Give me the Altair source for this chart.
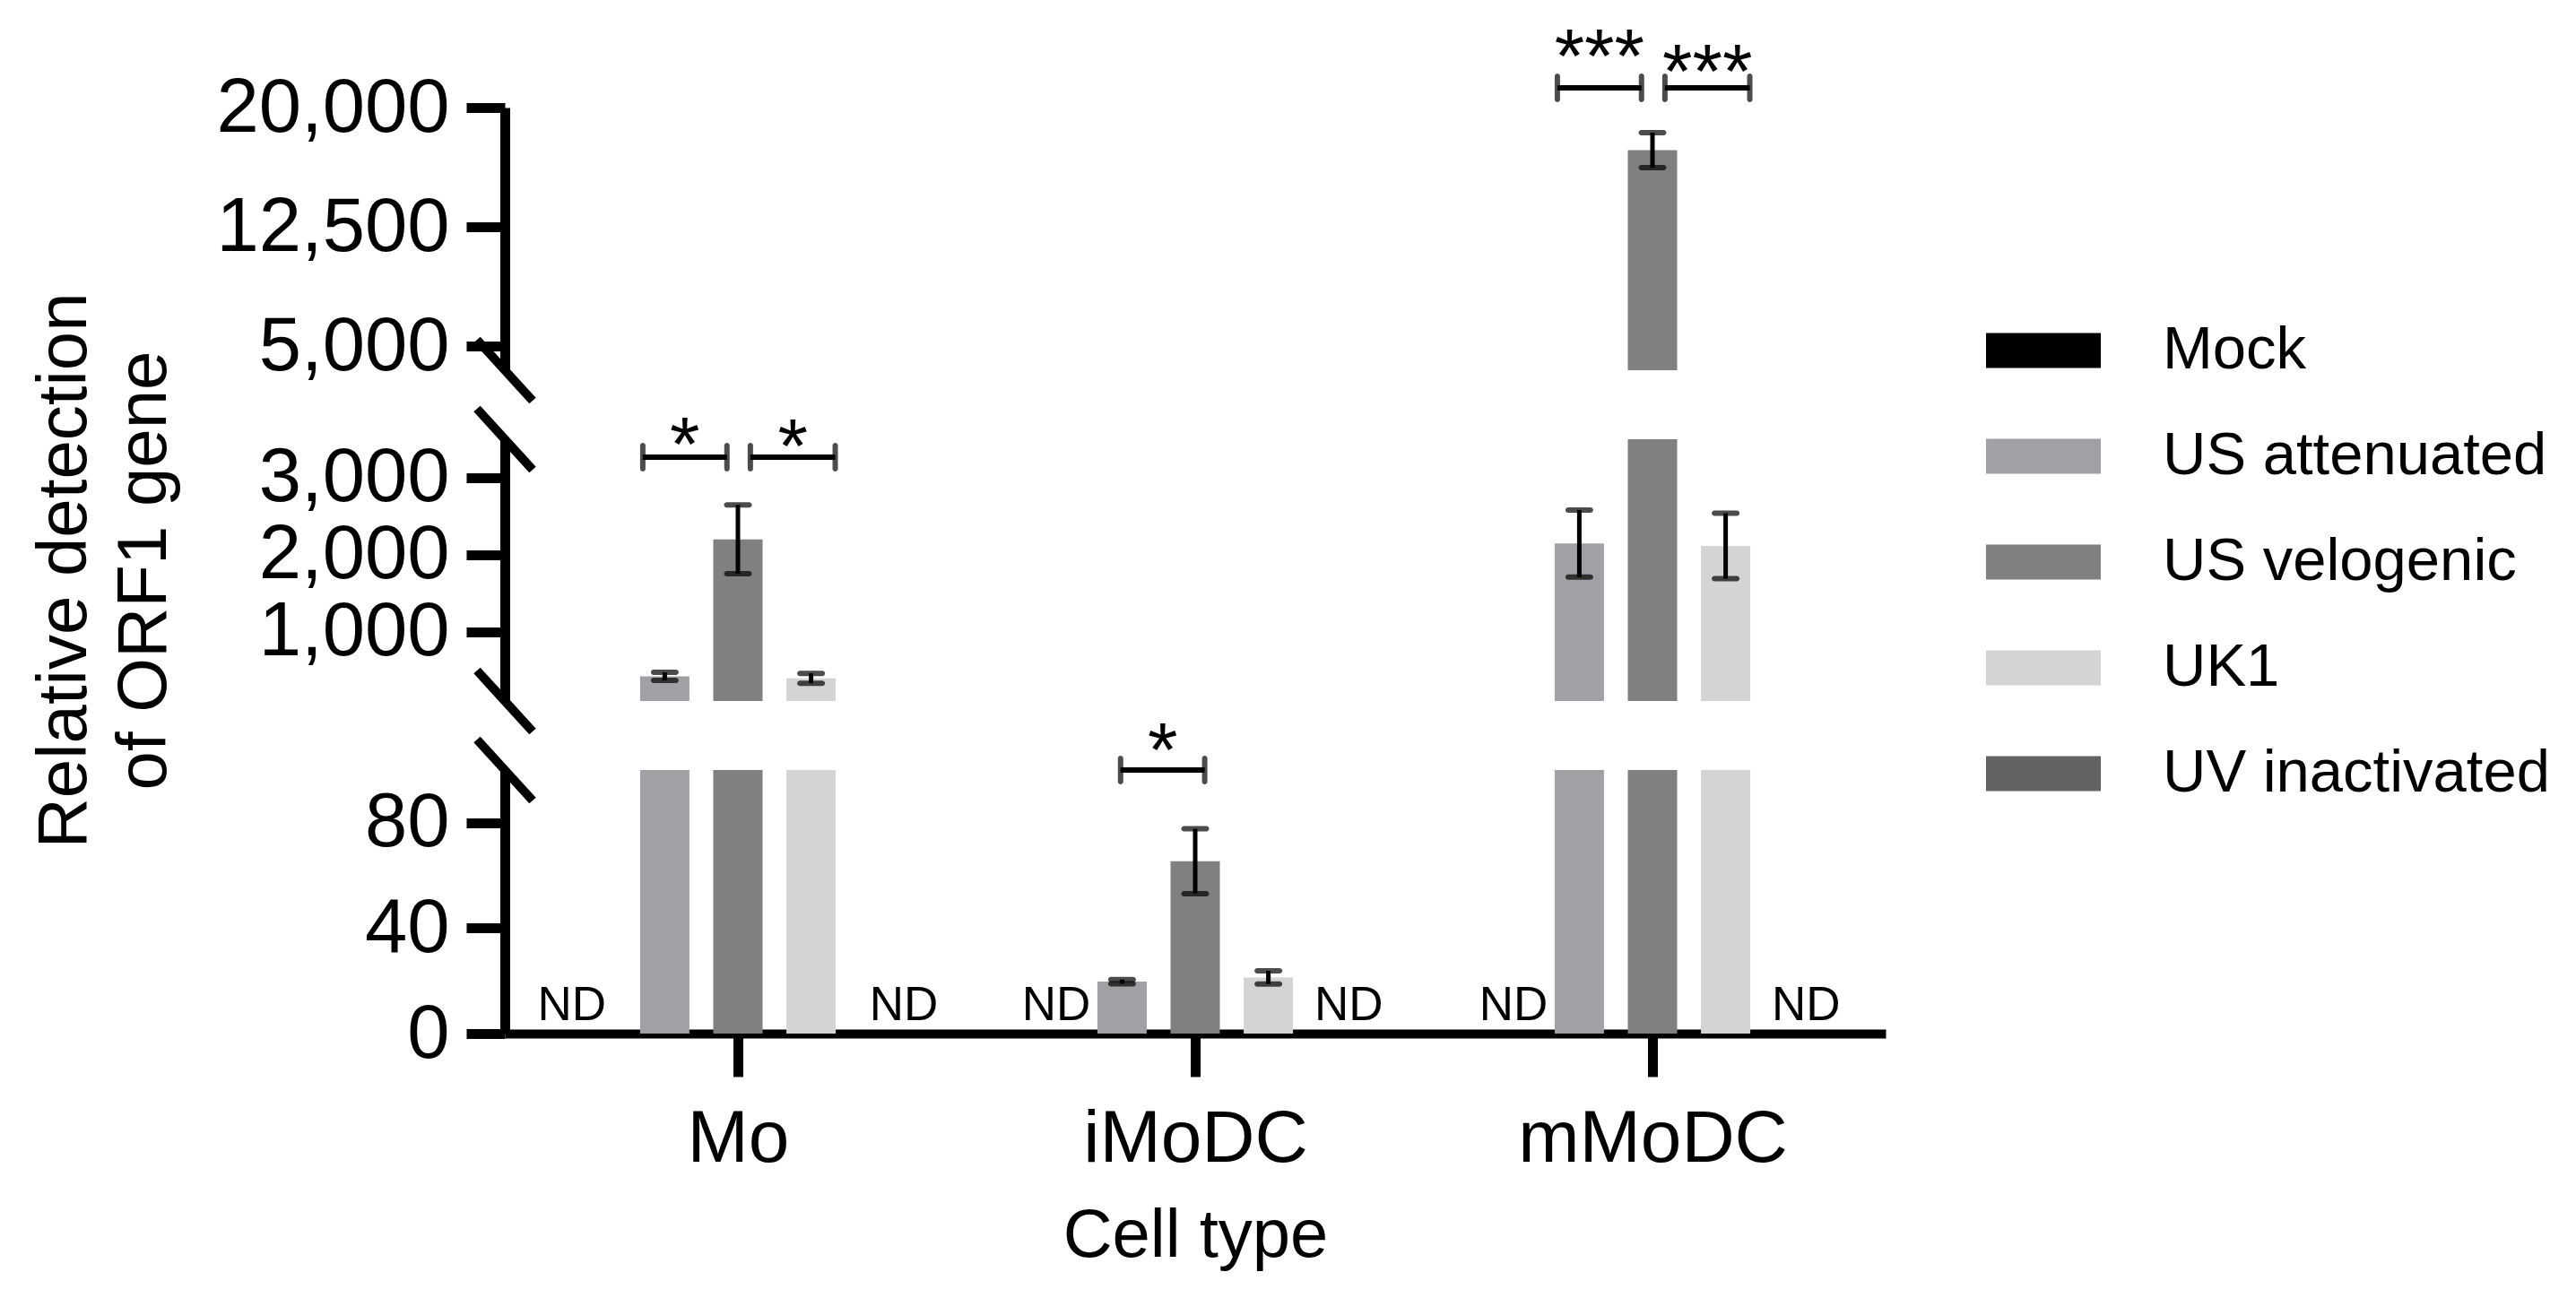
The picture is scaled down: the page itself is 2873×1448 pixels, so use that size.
import altair as alt
import pandas as pd

FONT = "Liberation Sans"

cells = ["Mo", "iMoDC", "mMoDC"]
series = ["Mock", "US attenuated", "US velogenic", "UK1", "UV inactivated"]
colors = ["#000000", "#a1a0a5", "#808080", "#d4d4d4", "#626262"]

# mean relative detection (None = not detected, "ND")
mean_Mo = [None, 420, 2200, 395, None]
mean_iMoDC = [None, 19.7, 65.4, 21.3, None]
mean_mMoDC = [None, 2145, 17320, 2113, None]
# error (SEM)
err_Mo = [None, 52, 448, 64, None]
err_iMoDC = [None, 0.8, 12.3, 2.5, None]
err_mMoDC = [None, 436, 1100, 425, None]

# significance comparisons
sig_cell = ["Mo", "Mo", "iMoDC", "mMoDC", "mMoDC"]
sig_from = ["US attenuated", "US velogenic", "US attenuated", "US attenuated", "US velogenic"]
sig_to = ["US velogenic", "UK1", "US velogenic", "US velogenic", "UK1"]
sig_label = ["*", "*", "*", "***", "***"]
sig_level = [3267, 3267, 100, 21240, 21240]
sig_text_level = [3093, 3064, 97.6, 21580, 20620]

# y-axis segments (broken axis): domain and tick values
seg_domains = [[3500, 20000], [100, 3500], [0, 100]]
seg_ticks = [[5000, 12500, 20000], [1000, 2000, 3000], [0, 40, 80]]

STEP = 0.16  # bar step within a group, in group units
W = 1540
H = [293, 292, 294]

rows = []
for ci, (c, means, errs) in enumerate(zip(cells, [mean_Mo, mean_iMoDC, mean_mMoDC],
                                           [err_Mo, err_iMoDC, err_mMoDC])):
    for si, s in enumerate(series):
        m = means[si]
        rows.append(dict(cell=c, series=s, xpos=ci + (si - 2) * STEP,
                         mean=m if m is not None else 0.0,
                         lo=(m - errs[si]) if m is not None else None,
                         hi=(m + errs[si]) if m is not None else None,
                         nd=m is None))
df = pd.DataFrame(rows)

sig_rows = []
for c, a, b, lab, lvl, tl in zip(sig_cell, sig_from, sig_to, sig_label, sig_level, sig_text_level):
    ci = cells.index(c)
    ia, ib = series.index(a), series.index(b)
    # bracket ends: left-hand pair sits slightly left, right-hand pair slightly right
    if ib <= 2:
        xa, xb = ia - 2 - 0.3, ib - 2 - 0.15
    else:
        xa, xb = ia - 2 + 0.17, ib - 2 + 0.33
    if c == "iMoDC":
        xa, xb = xa + 0.28, xb + 0.28
    sig_rows.append(dict(cell=c, label=lab, y=lvl, ty=tl,
                         x1=ci + xa * STEP, x2=ci + xb * STEP))
sig = pd.DataFrame(sig_rows)

xscale = alt.Scale(domain=[-0.5, 2.5], nice=False, zero=False)
cscale = alt.Scale(domain=series, range=colors)

sig_panels = [sig[sig["y"] > 5000], sig[(sig["y"] > 100) & (sig["y"] < 5000)], sig[sig["y"] <= 100]]


def panel(k):
    lo, hi = seg_domains[k]
    yscale = alt.Scale(domain=[lo, hi], nice=False, zero=False)
    is_bottom = k == 2
    if is_bottom:
        xaxis = alt.Axis(values=[0, 1, 2], labelExpr="['Mo','iMoDC','mMoDC'][datum.value]",
                         tickSize=48, tickWidth=11, domainWidth=10, labelFontSize=82,
                         labelPadding=29, title="Cell type", titleFontSize=76,
                         titleFontWeight="normal", titlePadding=30, grid=False,
                         domainColor="black", tickColor="black", labelColor="black",
                         titleColor="black", labelFont=FONT, titleFont=FONT,
                         labelLimit=600)
    else:
        xaxis = None
    yaxis_kw = dict(values=seg_ticks[k], format=",d", tickSize=43, tickWidth=11,
                    domainWidth=11, labelFontSize=85, labelPadding=19, grid=False,
                    domainColor="black", tickColor="black", labelColor="black",
                    labelFont=FONT, labelLimit=600)
    if k == 1:
        yaxis = alt.Axis(title=["Relative detection", "of ORF1 gene"], titleFontSize=78,
                         titleFontWeight="normal", titleFont=FONT, titleColor="black",
                         titleAngle=270, titleAlign="center", titleBaseline="alphabetic",
                         titleX=-468, titleY=146, titleLineHeight=89, **yaxis_kw)
    else:
        yaxis = alt.Axis(title=None, **yaxis_kw)

    def X(field):
        return alt.X(field, scale=xscale, axis=xaxis, title="Cell type" if is_bottom else None)

    def Y(field):
        return alt.Y(field, scale=yscale, axis=yaxis)

    bars_df = df[~df["nd"]]
    bars = alt.Chart(bars_df).mark_bar(size=55, clip=True).encode(
        x=X("xpos:Q"),
        y=Y("mean:Q"),
        color=alt.Color("series:N", scale=cscale, legend=alt.Legend(
            title=None, orient="none", legendX=1652, legendY=207,
            symbolType="M-1,-0.305H1V0.305H-1Z", symbolSize=16384,
            symbolStrokeWidth=0, symbolOpacity=1, labelFontSize=67, labelFont=FONT,
            labelColor="black", labelOffset=69, rowPadding=21, padding=0,
            labelLimit=800)),
    )
    layers = [bars]

    err_df = bars_df[(bars_df["mean"] >= lo) & (bars_df["mean"] <= hi)]
    if len(err_df):
        stem = alt.Chart(err_df).mark_rule(strokeWidth=5, color="black").encode(
            x=X("xpos:Q"), y=Y("lo:Q"), y2="hi:Q")
        caps = alt.Chart(err_df).transform_fold(["lo", "hi"], as_=["k", "v"]).mark_tick(
            orient="horizontal", size=31, thickness=6, color="black", cornerRadius=3).encode(
            x=X("xpos:Q"), y=Y("v:Q"))
        layers += [stem, caps]

    sub = sig_panels[k]
    if len(sub):
        hline = alt.Chart(sub).mark_rule(strokeWidth=6, color="black").encode(
            x=X("x1:Q"), x2="x2:Q", y=Y("y:Q"))
        ends = alt.Chart(sub).transform_fold(["x1", "x2"], as_=["k", "v"]).mark_tick(
            orient="vertical", size=32, thickness=6, color="black", cornerRadius=3).encode(
            x=X("v:Q"), y=Y("y:Q"))
        stars = alt.Chart(sub).transform_calculate(xm="(datum.x1 + datum.x2) / 2").mark_text(
            fontSize=86, font=FONT, baseline="alphabetic", align="center", color="black").encode(
            x=X("xm:Q"), y=Y("ty:Q"), text="label:N")
        layers += [hline, ends, stars]

    if is_bottom:
        nd_df = df[df["nd"]]
        nd = alt.Chart(nd_df).transform_calculate(
            xn="datum.xpos + (datum.cell == 'Mo' ? (datum.series == 'Mock' ? -0.043 : 0.043) : 0.016)"
        ).mark_text(fontSize=53, font=FONT, baseline="alphabetic", align="center",
                    color="black", dy=-15).encode(
            x=X("xn:Q"), y=Y("mean:Q"), text=alt.value("ND"))
        layers.append(nd)

    dummy = pd.DataFrame({"a": [0]})
    h = H[k]
    if k in (0, 1):
        layers.append(alt.Chart(dummy).mark_rule(strokeWidth=10, color="black").encode(
            x=alt.value(-31), x2=alt.value(31), y=alt.value(h - 34), y2=alt.value(h + 34)))
    if k in (1, 2):
        layers.append(alt.Chart(dummy).mark_rule(strokeWidth=10, color="black").encode(
            x=alt.value(-31), x2=alt.value(31), y=alt.value(-34), y2=alt.value(34)))

    return alt.layer(*layers).properties(width=W, height=h)


chart = alt.vconcat(panel(0), panel(1), panel(2), spacing=77, bounds="flush").properties(
    padding={"left": 24, "top": 14, "right": 5, "bottom": 5}
).configure(font=FONT, background="white").configure_view(strokeWidth=0, stroke="transparent")

chart.save("out.html", embed_options={"renderer": "svg", "actions": False})
